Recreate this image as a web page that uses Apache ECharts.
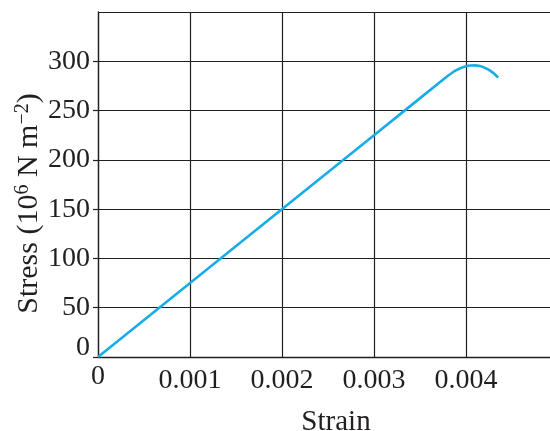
<!DOCTYPE html>
<html>
<head>
<meta charset="utf-8">
<script src="https://cdn.jsdelivr.net/npm/echarts@6/dist/echarts.min.js"></script>
<style>html,body{margin:0;padding:0;background:#fff;}#c{width:550px;height:431px;}</style>
</head>
<body>
<div id="c"></div>
<script>
const strain = [0, 0.0030, 0.0038, 0.00385, 0.0039, 0.00395, 0.0040, 0.00405, 0.0041, 0.00415, 0.0042, 0.00425, 0.0043, 0.00435];
const stress = [0, 225, 285, 288.4, 291.2, 293.4, 294.9, 295.7, 295.9, 295.2, 293.6, 291.3, 287.8, 283.5];
const xTicks = [0, 0.001, 0.002, 0.003, 0.004];
const yTicks = [0, 50, 100, 150, 200, 250, 300];

const chart = echarts.init(document.getElementById('c'));
const font = 'Liberation Serif';
const ink = '#231f20';
chart.setOption({
  animation: false,
  grid: { left: 98, top: 12, width: 460, height: 345, containLabel: false, outerBoundsMode: 'none' },
  xAxis: {
    type: 'value', min: 0, max: 0.005, interval: 0.001,
    name: 'Strain', nameLocation: 'middle', nameGap: 51, nameMoveOverlap: false,
    nameTextStyle: { fontFamily: font, fontSize: 29, color: ink, padding: [0, 0, 0, 16] },
    axisLine: { show: true, onZero: false, lineStyle: { color: ink, width: 1.3 } },
    axisTick: { show: false },
    splitLine: { show: true, lineStyle: { color: ink, width: 1.2 } },
    axisLabel: {
      showMaxLabel: false, margin: 10,
      fontFamily: font, fontSize: 28, color: ink,
      formatter: v => xTicks.indexOf(+v.toFixed(4)) >= 0 ? (v === 0 ? '{z|0}' : v.toFixed(3)) : '',
      rich: { z: { fontFamily: font, fontSize: 28, color: ink, lineHeight: 20 } }
    }
  },
  yAxis: {
    type: 'value', min: 0, max: 350, interval: 50,
    name: '{a|Stress (10}{s|6}{a| N m}{s|−2}{a|)}', nameLocation: 'middle', nameGap: 53, nameRotate: 90,
    nameMoveOverlap: false,
    nameTextStyle: {
      padding: [0, 38, 0, 0],
      rich: {
        a: { fontFamily: font, fontSize: 30, color: ink },
        s: { fontFamily: font, fontSize: 20, color: ink, verticalAlign: 'top', padding: [0, 0, 12, 0] }
      }
    },
    axisLine: { show: true, lineStyle: { color: ink, width: 1.3 } },
    axisTick: { show: true, length: 5, lineStyle: { color: ink, width: 1.2 } },
    splitLine: { show: true, lineStyle: { color: ink, width: 1.2 } },
    axisLabel: {
      showMaxLabel: false, margin: 8,
      fontFamily: font, fontSize: 28, color: ink,
      formatter: v => yTicks.indexOf(v) >= 0 ? (v === 0 ? '{z|0}' : String(v)) : '',
      rich: { z: { fontFamily: font, fontSize: 28, color: ink, padding: [0, 0, 19, 0] } }
    }
  },
  series: [{
    type: 'line',
    data: strain.map((s, i) => [s, stress[i]]),
    smooth: 0.3,
    showSymbol: false,
    lineStyle: { color: '#16ade8', width: 2.6 }
  }]
});
</script>
</body>
</html>
